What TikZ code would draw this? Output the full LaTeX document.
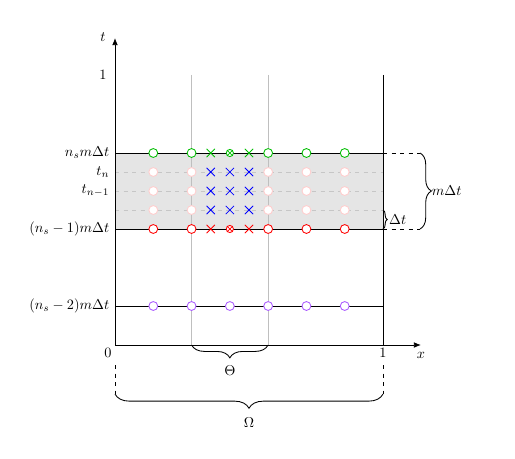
\documentclass[tikz,border=0pt]{standalone}
\usetikzlibrary{decorations.pathreplacing,shapes.misc,arrows.meta}
\definecolor{cgreen}{RGB}{0,190,0}
\definecolor{cpurple}{RGB}{170,90,255}
\definecolor{cpink}{RGB}{255,205,205}
\begin{document}
\begin{tikzpicture}[x=0.7pt,y=-0.7pt,
  pt/.style={circle,draw=#1,fill=white,inner sep=0pt,minimum size=6.2pt,line width=0.6pt},
  xx/.style={cross out,draw=#1,inner sep=0pt,minimum size=5.2pt,line width=0.6pt},
  cc/.style={circle,draw=#1,fill=white,inner sep=0pt,minimum size=5pt,line width=0.6pt},
  sx/.style={cross out,draw=#1,inner sep=0pt,minimum size=3.6pt,line width=0.5pt},
  br/.style={decorate,decoration={brace,amplitude=#1}},
  lab/.style={inner sep=1pt}]
\useasboundingbox (0,0) rectangle (515,458);
% coordinates
\coordinate (O) at (115,345);
\coordinate (Xend) at (421,345);
\coordinate (Yend) at (115,38);
% band
\fill[gray!20] (115,153) rectangle (383,229);
% dashed interior lines
\foreach \y in {172,191,210}
  \draw[gray!45,dashed,line width=0.6pt] (115,\y) -- (383,\y);
% vertical lines
\draw[gray!50,line width=0.6pt] (191.6,75) -- (191.6,345);
\draw[gray!50,line width=0.6pt] (268.1,75) -- (268.1,345);
\draw[line width=0.6pt] (383,75) -- (383,345);
% horizontal solid lines
\foreach \y in {153,229,306}
  \draw[line width=0.6pt] (115,\y) -- (383,\y);
% axes
\draw[line width=0.6pt,-{Latex[length=5pt,width=4pt]}] (O) -- (Xend);
\draw[line width=0.6pt,-{Latex[length=5pt,width=4pt]}] (O) -- (Yend);
\node[lab] (tl) at (103,37) {$t$};
\node[lab] (one) at (103,75) {$1$};
\node[lab] (zero) at (108,353) {$0$};
\node[lab] (xone) at (383,353) {$1$};
\node[lab] (xl) at (421,355) {$x$};
% left labels
\node[lab,anchor=east] (l1) at (111,153) {$n_s m\Delta t$};
\node[lab,anchor=east] (l2) at (111,172) {$t_n$};
\node[lab,anchor=east] (l3) at (111,191) {$t_{n-1}$};
\node[lab,anchor=east] (l4) at (111,229) {$(n_s-1)m\Delta t$};
\node[lab,anchor=east] (l5) at (111,306) {$(n_s-2)m\Delta t$};
% pink rows
\foreach \y in {172,191,210}{
  \foreach \k in {1,2,4,5,6}
    \node[pt=cpink] (p\k\y) at ({115+268*\k/7},\y) {};
  \foreach \k in {2.5,3,3.5}
    \node[xx=blue] (b\k\y) at ({115+268*\k/7},\y) {};
}
% green and red rows
\foreach \y/\c in {153/cgreen,229/red}{
  \foreach \k in {1,2,4,5,6}
    \node[pt=\c] (c\k\y) at ({115+268*\k/7},\y) {};
  \foreach \k in {2.5,3.5}
    \node[xx=\c] (x\k\y) at ({115+268*\k/7},\y) {};
  \node[cc=\c] (cx\y) at ({115+268*3/7},\y) {};
  \node[sx=\c] (sx\y) at ({115+268*3/7},\y) {};
}
% purple row
\foreach \k in {1,...,6}
  \node[pt=cpurple] (v\k) at ({115+268*\k/7},306) {};
% right braces
\coordinate (r1) at (420,153);
\coordinate (r2) at (420,229);
\draw[dashed,line width=0.6pt] (383,153) -- (r1);
\draw[dashed,line width=0.6pt] (383,229) -- (r2);
\draw[br=8pt,line width=0.6pt] (r1) -- (r2) node[midway,right=7pt,inner sep=1pt] (mdt) {$m\Delta t$};
\coordinate (d1) at (383,210);
\coordinate (d2) at (383,229);
\draw[br=3pt,line width=0.6pt] (d1) -- (d2) node[midway,right=3pt,inner sep=1pt] (dt) {$\Delta t$};
% Theta brace
\coordinate (th1) at (268.1,345);
\coordinate (th2) at (191.6,345);
\draw[br=9pt,line width=0.6pt] (th1) -- (th2) node[midway,below=13pt,inner sep=1pt] (thl) {$\Theta$};
% Omega brace
\coordinate (om1) at (383,394);
\coordinate (om2) at (115,394);
\draw[dashed,line width=0.6pt] (115,365) -- (om2);
\draw[dashed,line width=0.6pt] (383,365) -- (om1);
\draw[br=10pt,line width=0.6pt] (om1) -- (om2) node[midway,below=15pt,inner sep=1pt] (oml) {$\Omega$};
\end{tikzpicture}
\end{document}
